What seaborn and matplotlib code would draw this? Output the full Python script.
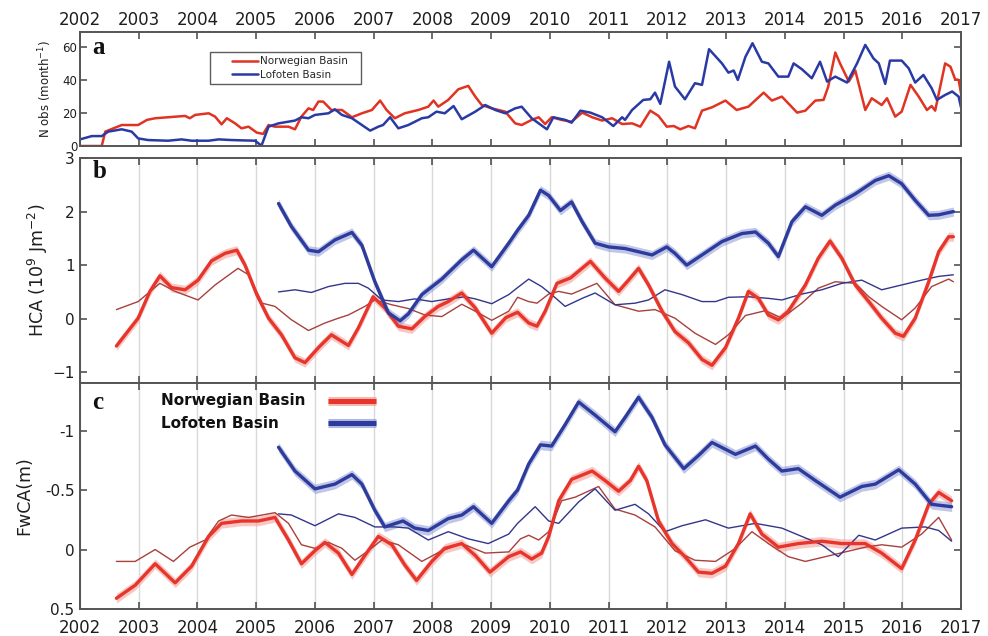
import numpy as np
import matplotlib
matplotlib.use("Agg")
import matplotlib.pyplot as plt
from matplotlib.lines import Line2D
from matplotlib.legend_handler import HandlerLine2D
import seaborn as sns

# ---------------------------------------------------------------- data
years = list(range(2002, 2018))
year_labels = [str(y) for y in years]

# (a) monthly number of profiles
nobs_nb_t = [2002.00, 2002.37, 2002.43, 2002.71, 2002.99, 2003.14, 2003.28, 2003.50, 2003.79, 2003.87,
             2003.96, 2004.19, 2004.30, 2004.41, 2004.50, 2004.64, 2004.75, 2004.87, 2005.01, 2005.12,
             2005.21, 2005.32, 2005.55, 2005.66, 2005.77, 2005.89, 2005.97, 2006.06, 2006.14, 2006.28,
             2006.46, 2006.63, 2006.80, 2006.97, 2007.11, 2007.22, 2007.36, 2007.53, 2007.76, 2007.93,
             2008.02, 2008.10, 2008.27, 2008.44, 2008.61, 2008.73, 2008.84, 2009.01, 2009.24, 2009.41,
             2009.52, 2009.69, 2009.81, 2009.92, 2010.03, 2010.20, 2010.37, 2010.55, 2010.72, 2010.89,
             2011.06, 2011.23, 2011.40, 2011.54, 2011.71, 2011.85, 2011.99, 2012.11, 2012.22, 2012.36,
             2012.47, 2012.59, 2012.76, 2012.99, 2013.18, 2013.38, 2013.64, 2013.78, 2013.95, 2014.21,
             2014.35, 2014.52, 2014.66, 2014.74, 2014.86, 2014.94, 2015.09, 2015.20, 2015.37, 2015.48,
             2015.65, 2015.74, 2015.88, 2015.99, 2016.14, 2016.28, 2016.42, 2016.50, 2016.56, 2016.73,
             2016.82, 2016.90, 2016.96, 2017.00]
nobs_nb = [0, 0, 8.7, 12.7, 12.7, 15.8, 16.8, 17.4, 18.2, 16.8,
           18.8, 19.8, 17.8, 13.1, 16.8, 13.7, 10.7, 11.7, 8.1, 7.3,
           12.7, 11.7, 11.7, 10.1, 17.8, 22.8, 21.8, 26.9, 26.9, 21.8,
           21.8, 17.4, 19.8, 21.8, 27.5, 21.8, 16.8, 19.8, 21.8, 23.8,
           27.5, 23.8, 27.9, 34.3, 36.4, 29.9, 24.8, 22.8, 20.8, 13.7,
           12.7, 15.8, 17.4, 13.3, 17.4, 15.8, 14.7, 20.2, 17.4, 15.4,
           16.8, 13.3, 13.7, 11.7, 21.4, 18.2, 11.7, 12.1, 10.1, 12.1,
           10.7, 21.4, 23.4, 27.5, 21.8, 23.8, 32.3, 27.5, 29.9, 20.2,
           21.4, 27.5, 27.9, 36.0, 56.6, 50.0, 39.0, 45.7, 21.8, 28.9,
           24.8, 28.9, 17.8, 20.8, 37.0, 29.9, 21.8, 24.2, 21.4, 50.0,
           48.0, 40.4, 40.0, 31.9]

nobs_lb_t = [2002.00, 2002.20, 2002.37, 2002.48, 2002.71, 2002.88, 2002.99, 2003.16, 2003.50, 2003.73,
             2003.90, 2004.19, 2004.36, 2004.58, 2004.98, 2005.09, 2005.21, 2005.38, 2005.66, 2005.77,
             2005.89, 2006.00, 2006.23, 2006.34, 2006.46, 2006.63, 2006.80, 2006.94, 2007.08, 2007.16,
             2007.28, 2007.42, 2007.59, 2007.82, 2007.93, 2008.07, 2008.21, 2008.36, 2008.50, 2008.73,
             2008.90, 2009.07, 2009.24, 2009.41, 2009.52, 2009.69, 2009.95, 2010.06, 2010.26, 2010.37,
             2010.52, 2010.69, 2010.89, 2011.08, 2011.23, 2011.28, 2011.40, 2011.59, 2011.71, 2011.79,
             2011.88, 2012.03, 2012.13, 2012.30, 2012.47, 2012.59, 2012.71, 2012.93, 2013.04, 2013.13,
             2013.20, 2013.33, 2013.45, 2013.61, 2013.72, 2013.89, 2014.06, 2014.15, 2014.29, 2014.46,
             2014.60, 2014.72, 2014.86, 2015.06, 2015.23, 2015.37, 2015.51, 2015.60, 2015.71, 2015.79,
             2015.99, 2016.11, 2016.22, 2016.36, 2016.50, 2016.59, 2016.73, 2016.85, 2016.96, 2017.00]
nobs_lb = [4.0, 6.0, 6.0, 8.7, 10.1, 8.7, 4.6, 3.6, 3.2, 4.0,
           3.2, 3.2, 4.0, 3.6, 3.2, 0.2, 11.7, 13.7, 15.4, 17.4,
           16.8, 18.8, 19.8, 22.2, 18.8, 16.8, 12.7, 9.3, 11.7, 12.7,
           17.4, 10.7, 12.7, 16.8, 17.4, 20.8, 19.8, 24.2, 16.2, 20.8,
           24.8, 21.8, 19.8, 22.8, 23.8, 16.8, 10.1, 17.4, 15.8, 14.1,
           21.4, 20.2, 17.4, 12.1, 17.4, 15.8, 21.8, 27.9, 28.3, 32.3,
           25.5, 51.0, 36.0, 28.3, 38.0, 37.0, 58.6, 50.0, 44.4, 45.7,
           40.0, 54.0, 62.2, 51.0, 50.0, 42.0, 42.0, 50.0, 46.5, 41.0,
           51.0, 39.0, 42.0, 38.4, 50.0, 61.2, 53.0, 50.0, 37.6, 51.7,
           51.7, 47.0, 38.4, 43.0, 35.0, 27.9, 30.9, 33.0, 29.9, 23.4]

# (b) heat content anomaly, 10^9 J m^-2
hca_nb_t = [2002.62, 2002.99, 2003.19, 2003.36, 2003.56, 2003.79, 2004.01, 2004.24, 2004.47, 2004.67,
            2004.81, 2005.01, 2005.21, 2005.43, 2005.66, 2005.83, 2006.06, 2006.28, 2006.57, 2006.74,
            2006.99, 2007.19, 2007.42, 2007.65, 2007.87, 2008.10, 2008.27, 2008.50, 2008.73, 2009.01,
            2009.25, 2009.45, 2009.64, 2009.78, 2009.92, 2010.12, 2010.35, 2010.69, 2010.94, 2011.17,
            2011.34, 2011.51, 2011.68, 2011.91, 2012.13, 2012.36, 2012.59, 2012.76, 2012.99, 2013.21,
            2013.38, 2013.55, 2013.72, 2013.89, 2014.06, 2014.35, 2014.57, 2014.77, 2014.97, 2015.20,
            2015.43, 2015.65, 2015.88, 2016.02, 2016.22, 2016.45, 2016.62, 2016.79, 2016.87]
hca_nb = [-0.51, 0.01, 0.51, 0.80, 0.58, 0.54, 0.72, 1.08, 1.22, 1.28,
          1.00, 0.45, 0.01, -0.30, -0.73, -0.82, -0.54, -0.30, -0.50, -0.17,
          0.41, 0.20, -0.14, -0.19, 0.04, 0.23, 0.32, 0.48, 0.20, -0.27,
          0.02, 0.12, -0.08, -0.14, 0.14, 0.66, 0.76, 1.07, 0.76, 0.51,
          0.72, 0.94, 0.63, 0.14, -0.24, -0.45, -0.76, -0.87, -0.54, 0.01,
          0.51, 0.38, 0.07, -0.02, 0.14, 0.63, 1.13, 1.45, 1.13, 0.63,
          0.32, 0.01, -0.27, -0.33, 0.01, 0.69, 1.25, 1.53, 1.53]

hca_nb_clim_t = [2002.62, 2002.99, 2003.36, 2003.62, 2004.01, 2004.30, 2004.69, 2004.87, 2005.10, 2005.32,
                 2005.60, 2005.89, 2006.17, 2006.40, 2006.57, 2006.85, 2007.02, 2007.31, 2007.59, 2007.87,
                 2008.16, 2008.50, 2008.73, 2009.01, 2009.30, 2009.45, 2009.64, 2009.78, 2009.98, 2010.15,
                 2010.37, 2010.80, 2011.11, 2011.51, 2011.79, 2012.13, 2012.47, 2012.82, 2013.04, 2013.33,
                 2013.67, 2013.95, 2014.29, 2014.57, 2014.86, 2015.20, 2015.43, 2015.65, 2015.99, 2016.22,
                 2016.50, 2016.79, 2016.87]
hca_nb_clim = [0.17, 0.32, 0.66, 0.51, 0.35, 0.63, 0.94, 0.82, 0.29, 0.23,
               -0.02, -0.22, -0.08, 0.01, 0.07, 0.23, 0.35, 0.26, 0.19, 0.07,
               0.04, 0.27, 0.14, -0.03, 0.14, 0.40, 0.32, 0.29, 0.46, 0.51,
               0.46, 0.66, 0.26, 0.14, 0.17, 0.01, -0.27, -0.48, -0.30, 0.06,
               0.15, 0.01, 0.29, 0.57, 0.69, 0.66, 0.41, 0.23, -0.02, 0.20,
               0.60, 0.74, 0.69]

hca_lb_t = [2005.38, 2005.60, 2005.89, 2006.06, 2006.34, 2006.63, 2006.80, 2007.02, 2007.25, 2007.45,
            2007.59, 2007.82, 2008.16, 2008.50, 2008.70, 2009.01, 2009.30, 2009.45, 2009.64, 2009.84,
            2009.98, 2010.18, 2010.37, 2010.55, 2010.77, 2011.00, 2011.28, 2011.51, 2011.74, 2011.99,
            2012.13, 2012.33, 2012.59, 2012.93, 2013.27, 2013.50, 2013.72, 2013.89, 2014.12, 2014.35,
            2014.63, 2014.86, 2015.20, 2015.54, 2015.77, 2015.99, 2016.22, 2016.45, 2016.62, 2016.87]
hca_lb = [2.15, 1.72, 1.28, 1.25, 1.47, 1.61, 1.37, 0.69, 0.11, -0.04,
          0.09, 0.45, 0.74, 1.10, 1.28, 0.97, 1.41, 1.65, 1.93, 2.40,
          2.30, 2.02, 2.18, 1.81, 1.41, 1.34, 1.31, 1.25, 1.19, 1.34,
          1.22, 1.00, 1.19, 1.44, 1.59, 1.62, 1.41, 1.16, 1.81, 2.09,
          1.93, 2.12, 2.33, 2.58, 2.67, 2.52, 2.21, 1.93, 1.94, 2.00]

hca_lb_clim_t = [2005.38, 2005.66, 2005.94, 2006.23, 2006.51, 2006.74, 2006.91, 2007.14, 2007.42, 2007.70,
                 2007.99, 2008.27, 2008.55, 2008.73, 2009.01, 2009.30, 2009.45, 2009.64, 2009.86, 2010.03,
                 2010.26, 2010.55, 2010.77, 2011.11, 2011.45, 2011.68, 2011.96, 2012.25, 2012.59, 2012.82,
                 2013.04, 2013.38, 2013.72, 2013.95, 2014.29, 2014.63, 2014.97, 2015.31, 2015.65, 2015.99,
                 2016.33, 2016.62, 2016.87]
hca_lb_clim = [0.50, 0.54, 0.49, 0.60, 0.66, 0.66, 0.57, 0.35, 0.32, 0.37,
               0.32, 0.37, 0.41, 0.37, 0.28, 0.45, 0.58, 0.74, 0.60, 0.45,
               0.23, 0.38, 0.48, 0.26, 0.29, 0.35, 0.54, 0.45, 0.32, 0.32,
               0.40, 0.41, 0.38, 0.35, 0.46, 0.54, 0.66, 0.72, 0.54, 0.63,
               0.72, 0.79, 0.82]

# (c) freshwater content anomaly, m
fwca_nb_t = [2002.62, 2002.94, 2003.28, 2003.62, 2003.90, 2004.19, 2004.41, 2004.75, 2005.04, 2005.32,
             2005.55, 2005.77, 2006.00, 2006.17, 2006.40, 2006.63, 2006.85, 2007.08, 2007.31, 2007.53,
             2007.73, 2007.99, 2008.21, 2008.50, 2008.73, 2008.98, 2009.30, 2009.50, 2009.69, 2009.86,
             2009.98, 2010.15, 2010.37, 2010.72, 2010.94, 2011.17, 2011.37, 2011.51, 2011.65, 2011.85,
             2012.08, 2012.30, 2012.53, 2012.76, 2012.99, 2013.21, 2013.41, 2013.61, 2013.89, 2014.23,
             2014.63, 2014.97, 2015.37, 2015.65, 2015.99, 2016.22, 2016.45, 2016.62, 2016.84]
fwca_nb = [0.41, 0.30, 0.12, 0.28, 0.14, -0.11, -0.22, -0.24, -0.24, -0.27,
           -0.08, 0.12, 0.01, -0.06, 0.03, 0.21, 0.05, -0.11, -0.04, 0.13,
           0.26, 0.10, -0.01, -0.05, 0.05, 0.19, 0.06, 0.02, 0.08, 0.03,
           -0.11, -0.41, -0.59, -0.66, -0.58, -0.49, -0.58, -0.70, -0.58, -0.24,
           -0.05, 0.06, 0.19, 0.20, 0.14, -0.05, -0.30, -0.13, -0.02, -0.05,
           -0.07, -0.05, -0.05, 0.03, 0.16, -0.08, -0.38, -0.48, -0.41]

fwca_nb_clim_t = [2002.62, 2002.94, 2003.28, 2003.59, 2003.87, 2004.13, 2004.36, 2004.58, 2004.87, 2005.10,
                  2005.32, 2005.55, 2005.77, 2006.00, 2006.23, 2006.46, 2006.68, 2006.91, 2007.14, 2007.42,
                  2007.82, 2008.16, 2008.50, 2008.90, 2009.30, 2009.50, 2009.64, 2009.81, 2009.98, 2010.20,
                  2010.43, 2010.83, 2011.11, 2011.45, 2011.79, 2012.13, 2012.47, 2012.82, 2013.16, 2013.44,
                  2013.72, 2014.06, 2014.35, 2014.69, 2015.03, 2015.37, 2015.65, 2015.99, 2016.33, 2016.62,
                  2016.84]
fwca_nb_clim = [0.10, 0.10, 0.00, 0.10, -0.02, -0.08, -0.24, -0.29, -0.27, -0.29,
                -0.31, -0.22, -0.04, -0.01, -0.06, -0.01, 0.09, 0.01, -0.08, -0.04,
                0.10, 0.01, -0.05, 0.03, 0.02, -0.09, -0.12, -0.08, -0.15, -0.41,
                -0.44, -0.53, -0.34, -0.29, -0.19, 0.01, 0.09, 0.10, -0.01, -0.15,
                -0.05, 0.06, 0.10, 0.06, 0.02, -0.02, -0.04, -0.02, -0.13, -0.27,
                -0.08]

fwca_lb_t = [2005.38, 2005.66, 2006.00, 2006.34, 2006.63, 2006.80, 2007.02, 2007.19, 2007.50, 2007.70,
             2007.93, 2008.27, 2008.50, 2008.70, 2009.01, 2009.30, 2009.45, 2009.64, 2009.84, 2010.03,
             2010.26, 2010.49, 2010.77, 2011.11, 2011.28, 2011.51, 2011.74, 2011.96, 2012.28, 2012.53,
             2012.76, 2013.16, 2013.50, 2013.72, 2013.95, 2014.23, 2014.52, 2014.94, 2015.31, 2015.54,
             2015.94, 2016.22, 2016.50, 2016.84]
fwca_lb = [-0.86, -0.66, -0.51, -0.55, -0.63, -0.55, -0.33, -0.19, -0.24, -0.18,
           -0.16, -0.26, -0.29, -0.36, -0.22, -0.41, -0.50, -0.72, -0.88, -0.87,
           -1.05, -1.24, -1.13, -0.99, -1.11, -1.28, -1.11, -0.88, -0.68, -0.79,
           -0.90, -0.80, -0.87, -0.76, -0.66, -0.68, -0.58, -0.44, -0.53, -0.55,
           -0.67, -0.55, -0.38, -0.36]

fwca_lb_clim_t = [2005.38, 2005.60, 2006.00, 2006.40, 2006.68, 2007.02, 2007.36, 2007.59, 2007.93, 2008.27,
                  2008.61, 2008.95, 2009.30, 2009.45, 2009.75, 2009.98, 2010.15, 2010.49, 2010.77, 2011.11,
                  2011.45, 2011.68, 2011.96, 2012.25, 2012.65, 2013.04, 2013.50, 2013.95, 2014.29, 2014.63,
                  2014.91, 2015.26, 2015.54, 2015.99, 2016.39, 2016.62, 2016.84]
fwca_lb_clim = [-0.30, -0.29, -0.20, -0.30, -0.27, -0.19, -0.19, -0.18, -0.08, -0.15,
                -0.09, -0.05, -0.13, -0.22, -0.36, -0.24, -0.22, -0.40, -0.51, -0.33,
                -0.38, -0.30, -0.15, -0.20, -0.25, -0.18, -0.22, -0.18, -0.11, -0.04,
                0.06, -0.12, -0.08, -0.18, -0.19, -0.16, -0.07]

basins = ["Norwegian Basin", "Lofoten Basin"]

# ---------------------------------------------------------------- style
sns.set_style("ticks")
plt.rcParams["font.family"] = ["DejaVu Sans"]
plt.rcParams.update({
    "xtick.direction": "in", "ytick.direction": "in",
    "axes.edgecolor": "#555555", "axes.linewidth": 1.4,
    "xtick.color": "#444444", "ytick.color": "#444444",
    "xtick.labelcolor": "#1e1e1e", "ytick.labelcolor": "#1e1e1e",
    "axes.labelcolor": "#1e1e1e",
})

RED = "#e8352b"
RED_BAND = "#f39a93"
BLUE = "#2d3c9c"
BLUE_BAND = "#8c97d6"
RED_THIN = "#a8403c"
BLUE_THIN = "#33368a"
RED_A = "#e03322"
BLUE_A = "#2a3aa4"

fig = plt.figure(figsize=(9.88, 6.36), dpi=100)
W, H = 988, 636
L, R = 80, 961


def add_axes(top, bottom):
    return fig.add_axes([L / W, 1 - bottom / H, (R - L) / W, (bottom - top) / H])


ax_a = add_axes(32, 146)
ax_b = add_axes(158, 383)
ax_c = add_axes(383, 609)


def thick(ax, t, v, color, band_color, spread):
    v = np.asarray(v)
    ax.fill_between(t, v - spread, v + spread, color=band_color, alpha=0.55, lw=0, zorder=2)
    sns.lineplot(x=t, y=v, ax=ax, color=color, lw=2.4, estimator=None, sort=False, zorder=3)


def thin(ax, t, v, color):
    sns.lineplot(x=t, y=v, ax=ax, color=color, lw=1.0, estimator=None, sort=False, zorder=2.5)


# ---------------------------------------------------------------- (a)
sns.lineplot(x=nobs_nb_t, y=nobs_nb, ax=ax_a, color=RED_A, lw=1.8, estimator=None, sort=False,
             label=basins[0])
sns.lineplot(x=nobs_lb_t, y=nobs_lb, ax=ax_a, color=BLUE_A, lw=1.8, estimator=None, sort=False,
             label=basins[1])
ax_a.set_ylim(0, 69)
ax_a.set_yticks([0, 20, 40, 60])
ax_a.tick_params(axis="y", labelsize=8.5, length=5, right=True, pad=2)
ax_a.set_ylabel("N obs (month$^{-1}$)", fontsize=8.5)
ax_a.yaxis.set_label_coords(-0.029, 0.5)
leg = ax_a.legend(loc="upper left", bbox_to_anchor=(0.142, 0.568, 0.183, 0.3), mode="expand",
                  fontsize=7.5, frameon=True, fancybox=False, edgecolor="#333333",
                  handlelength=4.2, borderpad=0.4, labelspacing=0.3, handletextpad=0.15,
                  handler_map={Line2D: HandlerLine2D(xpad=1.7)})
leg.get_frame().set_linewidth(1.0)

# ---------------------------------------------------------------- (b)
thick(ax_b, hca_nb_t, hca_nb, RED, RED_BAND, 0.085)
thin(ax_b, hca_nb_clim_t, hca_nb_clim, RED_THIN)
thick(ax_b, hca_lb_t, hca_lb, BLUE, BLUE_BAND, 0.085)
thin(ax_b, hca_lb_clim_t, hca_lb_clim, BLUE_THIN)
ax_b.set_ylim(-1.2, 3)
ax_b.set_yticks([-1, 0, 1, 2, 3])
ax_b.set_ylabel("HCA (10$^9$ Jm$^{-2}$)", fontsize=12.5)
ax_b.yaxis.set_label_coords(-0.034, 0.5)

# ---------------------------------------------------------------- (c)
thick(ax_c, fwca_nb_t, fwca_nb, RED, RED_BAND, 0.04)
thin(ax_c, fwca_nb_clim_t, fwca_nb_clim, RED_THIN)
thick(ax_c, fwca_lb_t, fwca_lb, BLUE, BLUE_BAND, 0.04)
thin(ax_c, fwca_lb_clim_t, fwca_lb_clim, BLUE_THIN)
ax_c.set_ylim(0.5, -1.4)
ax_c.set_yticks([-1, -0.5, 0, 0.5])
ax_c.set_yticklabels(["-1", "-0.5", "0", "0.5"])
ax_c.set_ylabel("FwCA(m)", fontsize=12.5)
ax_c.yaxis.set_label_coords(-0.053, 0.5)

# legend of panel c: label column followed by a line sample column
for i, (name, col, band) in enumerate(zip(basins, [RED, BLUE], [RED_BAND, BLUE_BAND])):
    y = 0.921 - i * 0.098
    ax_c.text(0.092, y, name, transform=ax_c.transAxes, fontsize=11, fontweight="bold",
              va="center", ha="left", color="#111111")
    ax_c.add_line(Line2D([0.281, 0.336], [y, y], transform=ax_c.transAxes, color=band, lw=6.5,
                         alpha=0.7, solid_capstyle="butt"))
    ax_c.add_line(Line2D([0.281, 0.336], [y, y], transform=ax_c.transAxes, color=col, lw=3.6,
                         solid_capstyle="butt"))

# ---------------------------------------------------------------- shared axes formatting
for ax in (ax_a, ax_b, ax_c):
    ax.set_xlim(2002, 2017)
    ax.set_xticks(years)
    ax.tick_params(axis="x", top=True, bottom=True, length=5, width=1.1)
    ax.tick_params(axis="y", left=True, right=True, length=5, width=1.1)
    ax.set_xlabel("")
    for s in ax.spines.values():
        s.set_visible(True)

for ax in (ax_b, ax_c):
    ax.grid(axis="x", color="#d9d9d9", lw=1.0, zorder=0)
    ax.tick_params(axis="y", labelsize=11, pad=4)

ax_a.tick_params(axis="x", labeltop=True, labelbottom=False, labelsize=12, pad=2)
ax_a.set_xticklabels(year_labels)
ax_b.tick_params(axis="x", labeltop=False, labelbottom=False)
ax_c.tick_params(axis="x", labeltop=False, labelbottom=True, labelsize=12, pad=7)
ax_c.set_xticklabels(year_labels)

for ax, letter, y in ((ax_a, "a", 0.86), (ax_b, "b", 0.94), (ax_c, "c", 0.915)):
    ax.text(0.014, y, letter, transform=ax.transAxes, fontsize=18, fontweight="bold",
            family=["Liberation Serif", "DejaVu Serif"], va="center", ha="left", color="#111111")

fig.savefig("out.png", dpi=100)
